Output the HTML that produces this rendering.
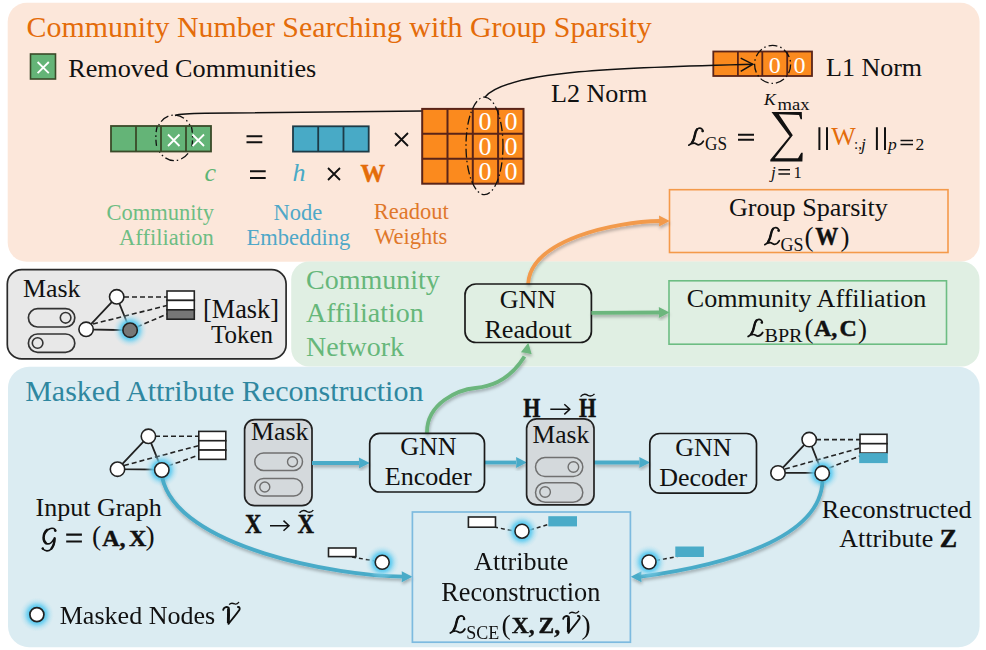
<!DOCTYPE html>
<html><head><meta charset="utf-8">
<style>
html,body{margin:0;padding:0;background:#fff;width:986px;height:650px;overflow:hidden}
svg{display:block}
text{font-family:"Liberation Serif",serif;fill:#111}
.b{font-weight:bold;stroke:#111;stroke-width:0.45px}
.i{font-style:italic}
</style></head><body>
<svg width="986" height="650" viewBox="0 0 986 650">
<defs>
<radialGradient id="glow" cx="0.5" cy="0.5" r="0.5">
<stop offset="0.42" stop-color="#4fc7f0" stop-opacity="1"/>
<stop offset="0.58" stop-color="#66cdf0" stop-opacity="0.8"/>
<stop offset="0.78" stop-color="#90d8f0" stop-opacity="0.35"/>
<stop offset="1" stop-color="#b8e4f2" stop-opacity="0"/>
</radialGradient>
<g id="SL">
<path d="M14.4,3.4 C14.6,1.4 12.6,-0.3 10.2,0.3 C8.2,0.8 7.2,3 6.6,6 C5.8,9.8 5,12.8 3.3,14.8 C2.4,15.9 1.2,16.8 0.3,17.2 C1.8,16 3.5,15.2 5.7,15.2 C7.5,15.2 8.3,16.8 10,16.8 C12,16.8 13.6,15.6 14.9,13.2" fill="none" stroke="#111" stroke-width="1.7" stroke-linecap="round" stroke-linejoin="round"/>
<path d="M8.6,1.2 C7.4,2.5 6.9,4.2 6.5,6.5 C5.9,9.8 5.1,12.5 3.6,14.4" fill="none" stroke="#111" stroke-width="2.4" stroke-linecap="round"/>
<circle cx="14" cy="3.1" r="1.25" fill="#111"/>
</g>
<g id="SV">
<path d="M563.2,618.8 C563.5,616.3 566.5,615.3 568.7,616.8 C569.3,622 569,628 568.5,632.8 C571.5,629 577,622.5 579.3,619 C580.2,617.5 579.5,615.8 578,616" fill="none" stroke="#111" stroke-width="1.9" stroke-linecap="round" stroke-linejoin="round"/>
<path d="M568.4,617.5 L568.2,632" stroke="#111" stroke-width="2.6"/>
<path d="M569.2,613.6 C571,611.2 573,612.2 575,613 C577,613.7 578,612.3 579,611" fill="none" stroke="#111" stroke-width="1.3"/>
</g>
<g id="HEADB"><path d="M0.3,0 L-10.5,-5.5 L-10.2,0 L-10.5,5.5 Z"/></g>
<filter id="sh" x="-10%" y="-10%" width="120%" height="130%"><feDropShadow dx="0.6" dy="2.4" stdDeviation="1.6" flood-color="#000" flood-opacity="0.27"/></filter>
</defs>

<!-- ============ PANELS ============ -->
<rect x="7.7" y="2.8" width="971.9" height="258.9" rx="19" fill="#fce7da"/>
<rect x="291.2" y="261.5" width="688.3" height="105" rx="18" fill="#e0efe3"/>
<rect x="8" y="366.8" width="971.6" height="280.4" rx="21" fill="#dbecf2"/>
<rect x="7.3" y="269.6" width="278.8" height="89.3" rx="14.5" fill="#e8e8e8" stroke="#2a2a2a" stroke-width="1.7"/>

<!-- ============ TOP PANEL ============ -->
<text x="26.6" y="36.7" font-size="29.9" style="fill:#e46c0a">Community Number Searching with Group Sparsity</text>
<rect x="30.5" y="54" width="25" height="25" fill="#64b477" stroke="#3a4a28" stroke-width="1.6"/>
<path d="M37.6,62 L48.8,73.2 M48.8,62 L37.6,73.2" stroke="#fff" stroke-width="1.8"/>
<text x="68.2" y="76.5" font-size="26.2">Removed Communities</text>

<!-- green bar -->
<ellipse cx="174.3" cy="137.8" rx="18.8" ry="22.8" fill="none" stroke="#111" stroke-width="1.3" stroke-dasharray="9 3 1.5 3"/>
<rect x="111" y="126" width="100" height="25.5" fill="#64b477" stroke="#3a4a28" stroke-width="1.8"/>
<path d="M136,126V151.5M161,126V151.5M186,126V151.5" stroke="#3a4a28" stroke-width="1.8"/>
<path d="M157.2,126.5 C155.6,132 155.4,140 156.8,147.5 M191.5,127 C192.8,133 193,141 191.5,149" fill="none" stroke="#111" stroke-width="1.3" stroke-dasharray="6 3 1.5 3"/>
<path d="M168,134.5 L179.5,146 M179.5,134.5 L168,146 M192.5,134.5 L204,146 M204,134.5 L192.5,146" stroke="#fff" stroke-width="1.8"/>
<path d="M175,115.5 C180,113.8 190,113.4 205,113.3 L423,110.9" fill="none" stroke="#111" stroke-width="1.5"/>

<path d="M246.5,136.2H262.3M246.5,142.3H262.3" stroke="#111" stroke-width="2.1"/>
<!-- blue bar -->
<rect x="293" y="126.3" width="75.7" height="25.3" fill="#48aac6" stroke="#1d3b47" stroke-width="1.8"/>
<path d="M318.2,126.3V151.6M343.5,126.3V151.6" stroke="#1d3b47" stroke-width="1.8"/>
<path d="M395,133 L408,146 M408,133 L395,146" stroke="#111" stroke-width="1.8"/>
<!-- orange matrix -->
<rect x="422.2" y="108.9" width="101.3" height="74.8" fill="#fb8a1e" stroke="#5a2418" stroke-width="2"/>
<path d="M447.5,108.9V183.7M472.8,108.9V183.7M498.1,108.9V183.7M422.2,133.8H523.5M422.2,158.7H523.5" stroke="#5a2418" stroke-width="2"/>
<g font-size="26" text-anchor="middle">
<text x="484.9" y="129.8" style="fill:#fff">0</text><text x="510.9" y="129.8" style="fill:#fff">0</text>
<text x="484.9" y="154.8" style="fill:#fff">0</text><text x="510.9" y="154.8" style="fill:#fff">0</text>
<text x="484.9" y="179.8" style="fill:#fff">0</text><text x="510.9" y="179.8" style="fill:#fff">0</text>
</g>
<ellipse cx="484.5" cy="145.9" rx="18.5" ry="48.8" fill="none" stroke="#111" stroke-width="1.3" stroke-dasharray="9 3 1.5 3"/>
<text x="551" y="101.6" font-size="26.1">L2 Norm</text>

<!-- second row math -->
<text x="204.5" y="181" font-size="26" class="i" style="fill:#5fb574">c</text>
<path d="M250,171.3H265.7M250,178H265.7" stroke="#111" stroke-width="2.1"/>
<text x="292.5" y="181" font-size="26" class="i" style="fill:#48aac6">h</text>
<path d="M328,168 L340,180 M340,168 L328,180" stroke="#111" stroke-width="1.8"/>
<text x="360.5" y="182.2" font-size="24.5" class="b" style="fill:#e46c0a;stroke:#e46c0a">W</text>

<!-- labels -->
<g font-size="22.5">
<text x="106.4" y="219.7" style="fill:#6dbd83">Community</text>
<text x="119.1" y="245.3" style="fill:#6dbd83">Affiliation</text>
<text x="273.6" y="219.7" style="fill:#4fa8c8">Node</text>
<text x="246.6" y="245" style="fill:#4fa8c8">Embedding</text>
<text x="373.8" y="218.8" style="fill:#e0782a">Readout</text>
<text x="374.2" y="244.3" style="fill:#e0782a">Weights</text>
</g>

<!-- L1 bar -->
<rect x="713.3" y="51.5" width="98.7" height="24.5" fill="#fb8a1e" stroke="#5a2418" stroke-width="1.8"/>
<path d="M737.9,51.5V76M762.3,51.5V76M787.2,51.5V76" stroke="#5a2418" stroke-width="1.8"/>
<text x="774.8" y="72.8" font-size="24" text-anchor="middle" style="fill:#fff">0</text>
<text x="799.6" y="72.8" font-size="24" text-anchor="middle" style="fill:#fff">0</text>
<ellipse cx="772.6" cy="64.4" rx="18" ry="19" fill="none" stroke="#111" stroke-width="1.3" stroke-dasharray="9 3 1.5 3"/>
<path d="M484.9,97.2 C507,69.7 634.5,67.2 752.8,64.2" fill="none" stroke="#111" stroke-width="1.5"/>
<path d="M740.7,58.2 L752.8,64.2 L740.7,71.3" fill="none" stroke="#111" stroke-width="1.5"/>
<text x="826" y="76.2" font-size="26">L1 Norm</text>

<!-- formula -->
<use href="#SL" transform="translate(688.5,128)"/>
<text x="705" y="149.6" font-size="19.5" textLength="22" lengthAdjust="spacingAndGlyphs">GS</text>
<path d="M738,134.8H754M738,139.8H754" stroke="#111" stroke-width="2"/>
<path d="M771.5,111.9 L801.8,111.9 L802,119.2 L800.6,119.2 L799,115 L778.8,114.3 L792.8,135.2 L774.8,158.2 L798,158.2 L801.2,152.8 L802.7,152.8 L802.4,161.6 L770.3,161.6 L770.3,159.8 L789.6,136.2 Z" fill="#111"/>
<text x="764" y="105.3" font-size="17.5" class="i">K</text>
<text x="777.5" y="109.6" font-size="17.5" textLength="32" lengthAdjust="spacingAndGlyphs">max</text>
<text x="771" y="177.8" font-size="17" class="i">j</text>
<path d="M778.4,169.8H790M778.4,174H790" stroke="#111" stroke-width="1.5"/>
<text x="793.5" y="177.7" font-size="16.5">1</text>
<path d="M819.4,127.3V149.9M827,127.3V149.9" stroke="#111" stroke-width="2"/>
<text x="831.2" y="144.8" font-size="25.5" textLength="24.5" lengthAdjust="spacingAndGlyphs" style="fill:#e46c0a">W</text>
<text x="854" y="149" font-size="15">:,</text>
<text x="861" y="149.5" font-size="17.5" class="i">j</text>
<path d="M876.9,127.3V149.9M885,127.3V149.9" stroke="#111" stroke-width="2"/>
<text x="888" y="149.5" font-size="17.5" class="i">p</text>
<path d="M900.5,140.5H913M900.5,144.5H913" stroke="#111" stroke-width="1.5"/>
<text x="915.5" y="149.5" font-size="17.5">2</text>

<!-- GS box -->
<rect x="669.5" y="189.7" width="278.5" height="62.8" fill="none" stroke="#f49a4a" stroke-width="1.6"/>
<text x="728.9" y="215.5" font-size="26.15">Group Sparsity</text>
<use href="#SL" transform="translate(764.5,227.5)"/>
<text x="780.5" y="250.5" font-size="19.5" textLength="23" lengthAdjust="spacingAndGlyphs">GS</text>
<text x="804.5" y="246.2" font-size="27">(</text>
<text x="815.2" y="245.2" font-size="25" class="b" textLength="23" lengthAdjust="spacingAndGlyphs">W</text>
<text x="840.5" y="246.2" font-size="27">)</text>

<!-- orange curve -->
<g filter="url(#sh)"><path d="M528.1,284 C530.5,239.4 615.7,221.5 660,221" fill="none" stroke="#f29a4c" stroke-width="3.8"/>
<use href="#HEADB" transform="translate(669.5,221)" fill="#f29a4c"/></g>

<!-- ============ MASK LEGEND ============ -->
<text x="23" y="296.5" font-size="25.9">Mask</text>
<rect x="28.4" y="308.6" width="46.4" height="18.4" rx="9.2" fill="none" stroke="#333" stroke-width="1.7"/>
<circle cx="65.6" cy="317.8" r="5.3" fill="none" stroke="#333" stroke-width="1.6"/>
<rect x="28.4" y="334" width="46.4" height="18.4" rx="9.2" fill="none" stroke="#333" stroke-width="1.7"/>
<circle cx="37.6" cy="343" r="5.3" fill="none" stroke="#333" stroke-width="1.6"/>
<path d="M124,297 H167 M93,324 L167,305.5 M137,327 L167,314" stroke="#222" stroke-width="1.6" stroke-dasharray="5 3"/>
<path d="M116.7,296.8 L86.1,329.3 L130.1,330.2 Z" fill="none" stroke="#222" stroke-width="1.8"/>
<circle cx="130.1" cy="330.2" r="17" fill="url(#glow)"/>
<circle cx="116.7" cy="296.8" r="7.2" fill="#fff" stroke="#222" stroke-width="1.6"/>
<circle cx="86.1" cy="329.3" r="7.2" fill="#fff" stroke="#222" stroke-width="1.6"/>
<circle cx="130.1" cy="330.2" r="7.2" fill="#777" stroke="#222" stroke-width="1.6"/>
<rect x="167" y="291" width="27.3" height="9.4" fill="#fff" stroke="#222" stroke-width="1.6"/>
<rect x="167" y="300.4" width="27.3" height="9.4" fill="#fff" stroke="#222" stroke-width="1.6"/>
<rect x="167" y="309.8" width="27.3" height="9.4" fill="#777" stroke="#222" stroke-width="1.6"/>
<text x="203" y="317.8" font-size="26.3">[Mask]</text>
<text x="211" y="342.7" font-size="25">Token</text>

<!-- ============ GREEN PANEL ============ -->
<g font-size="28">
<text x="306" y="289" style="fill:#66b77a">Community</text>
<text x="306" y="322" style="fill:#66b77a">Affiliation</text>
<text x="306" y="355.6" style="fill:#66b77a">Network</text>
</g>
<rect x="465" y="284" width="126.4" height="58.5" rx="11" fill="none" stroke="#1a1a1a" stroke-width="1.7"/>
<text x="499.8" y="308.4" font-size="26">GNN</text>
<text x="484.4" y="337.6" font-size="26.2">Readout</text>
<g filter="url(#sh)"><path d="M591.4,312.9 L660,312.5" stroke="#6cb67d" stroke-width="3.8"/>
<use href="#HEADB" transform="translate(669.3,312.5)" fill="#6cb67d"/></g>
<rect x="669" y="280.8" width="277.5" height="63.4" fill="none" stroke="#6dbd83" stroke-width="1.6"/>
<text x="686.8" y="307.4" font-size="26.1">Community Affiliation</text>
<use href="#SL" transform="translate(747.8,319.3)"/>
<text x="764.5" y="342" font-size="19.5" textLength="38" lengthAdjust="spacingAndGlyphs">BPR</text>
<text x="804.5" y="337.5" font-size="27">(</text>
<text x="814" y="336.3" font-size="24" class="b">A,</text>
<text x="839.5" y="336.3" font-size="24" class="b">C</text>
<text x="858" y="337.5" font-size="27">)</text>

<!-- green curve -->
<g filter="url(#sh)"><path d="M427,433.2 C426.2,402.7 458.9,389.6 475.7,388 C491.9,386.4 510.6,379.1 524.5,356.5" fill="none" stroke="#6cb67d" stroke-width="3.8"/>
<use href="#HEADB" transform="translate(528.3,343) rotate(-79)" fill="#6cb67d"/></g>

<!-- ============ BLUE PANEL ============ -->
<text x="25.2" y="400.6" font-size="30" style="fill:#2f87a0">Masked Attribute Reconstruction</text>

<!-- input graph -->
<path d="M155,436.3 H199 M124,465.5 L199,445.5 M168,466 L199,455" stroke="#222" stroke-width="1.6" stroke-dasharray="5 3"/>
<path d="M148.4,436.3 L117.5,469.2 L161.8,469.6 Z" fill="none" stroke="#222" stroke-width="1.8"/>
<circle cx="161.8" cy="470" r="17" fill="url(#glow)"/>
<circle cx="148.4" cy="436.3" r="7.2" fill="#fff" stroke="#222" stroke-width="1.6"/>
<circle cx="117.5" cy="469.2" r="7.2" fill="#fff" stroke="#222" stroke-width="1.6"/>
<rect x="198.8" y="431.4" width="27" height="9.33" fill="#fff" stroke="#222" stroke-width="1.6"/>
<rect x="198.8" y="440.73" width="27" height="9.33" fill="#fff" stroke="#222" stroke-width="1.6"/>
<rect x="198.8" y="450.06" width="27" height="9.33" fill="#fff" stroke="#222" stroke-width="1.6"/>
<text x="35.5" y="516" font-size="26">Input Graph</text>
<path d="M55.6,531 C55.5,528.5 52.5,527.8 50.5,528.5 C47,529.6 44.3,533 43.6,537.5 C43.2,541 44.8,543.6 47.5,543.9 C50,544.1 52,542.3 53.5,539.6 M54.6,538 C54.6,542 53.5,546.5 51,549.2 C48.8,551.4 45,551.6 42.5,548.6" fill="none" stroke="#111" stroke-width="1.6" stroke-linecap="round"/>
<path d="M47,529.8 C44.8,531.8 43.6,534.5 43.6,537.5 C43.6,540 44.3,542 46,543.2 M54.6,538.5 C54.5,542.5 53.5,546 51.5,548.5" fill="none" stroke="#111" stroke-width="2.4" stroke-linecap="round"/>
<circle cx="55.2" cy="530.6" r="1.3" fill="#111"/><circle cx="42.8" cy="548.5" r="1.2" fill="#111"/>
<path d="M66.2,534.6H81.9M66.2,541.5H81.9" stroke="#111" stroke-width="2.1"/>
<text x="92" y="545" font-size="27.5">(</text>
<text x="102.2" y="545.9" font-size="24" class="b">A,</text>
<text x="129" y="545.9" font-size="24" class="b">X</text>
<text x="145.5" y="545" font-size="27.5">)</text>

<!-- mask 1 -->
<rect x="244.6" y="419.7" width="67.4" height="86" rx="10" fill="#d4d9dc" stroke="#222" stroke-width="1.7"/>
<text x="251" y="440.4" font-size="25.9">Mask</text>
<rect x="254.8" y="453" width="47.7" height="17.4" rx="8.7" fill="none" stroke="#707070" stroke-width="1.5"/>
<circle cx="292.5" cy="461.7" r="5" fill="none" stroke="#707070" stroke-width="1.4"/>
<rect x="254.8" y="478.5" width="47.7" height="17.6" rx="8.8" fill="none" stroke="#707070" stroke-width="1.5"/>
<circle cx="264.8" cy="487" r="5" fill="none" stroke="#707070" stroke-width="1.4"/>
<text x="244.9" y="533" font-size="26.5" class="b" textLength="16.5" lengthAdjust="spacingAndGlyphs">X</text>
<path d="M270,525.7H288.5M283.5,520.6 L289,525.7 L283.5,530.8" fill="none" stroke="#111" stroke-width="1.5"/>
<text x="297.4" y="533" font-size="26.5" class="b" textLength="16.5" lengthAdjust="spacingAndGlyphs">X</text>
<path d="M299.5,512.8 C302,509.8 305,510.3 307,511.6 C309.5,512.9 311.5,512.3 313.3,510.1" fill="none" stroke="#111" stroke-width="1.4"/>

<!-- blue arrows -->
<g filter="url(#sh)">
<g stroke="#4aabc8" stroke-width="3.8">
<path d="M312,463 H359"/>
<path d="M484.5,462.5 H516"/>
<path d="M594,462.5 H639.5"/>
</g>
<use href="#HEADB" transform="translate(369.4,463)" fill="#4aabc8"/>
<use href="#HEADB" transform="translate(526.6,462.5)" fill="#4aabc8"/>
<use href="#HEADB" transform="translate(649.8,462.5)" fill="#4aabc8"/>
</g>

<!-- encoder -->
<rect x="369.7" y="433.4" width="114.8" height="58.6" rx="10" fill="none" stroke="#1a1a1a" stroke-width="1.7"/>
<text x="400.2" y="455.2" font-size="26">GNN</text>
<text x="384.7" y="485.2" font-size="26.1">Encoder</text>

<!-- mask 2 -->
<rect x="526.6" y="418.8" width="67.4" height="86" rx="10" fill="#d4d9dc" stroke="#222" stroke-width="1.7"/>
<text x="532.5" y="443" font-size="25.5">Mask</text>
<rect x="535.5" y="457.6" width="47.3" height="18.9" rx="9.4" fill="none" stroke="#707070" stroke-width="1.5"/>
<circle cx="573.4" cy="467" r="5.3" fill="none" stroke="#707070" stroke-width="1.4"/>
<rect x="535.5" y="482.8" width="47.3" height="19.4" rx="9.7" fill="none" stroke="#707070" stroke-width="1.5"/>
<circle cx="545.1" cy="492" r="5.3" fill="none" stroke="#707070" stroke-width="1.4"/>
<text x="523.3" y="416.7" font-size="26.5" class="b" textLength="17.1" lengthAdjust="spacingAndGlyphs">H</text>
<path d="M550.3,409.3H569M564.3,404.2 L569.8,409.3 L564.3,414.4" fill="none" stroke="#111" stroke-width="1.5"/>
<text x="578.9" y="416.7" font-size="26.5" class="b" textLength="17.1" lengthAdjust="spacingAndGlyphs">H</text>
<path d="M580.5,396.6 C583,393.6 586,394.1 588,395.4 C590.5,396.7 592.5,396.1 594.5,393.9" fill="none" stroke="#111" stroke-width="1.4"/>

<!-- decoder -->
<rect x="649.8" y="433.5" width="106.7" height="59.7" rx="10" fill="none" stroke="#1a1a1a" stroke-width="1.7"/>
<text x="675.3" y="455.8" font-size="26">GNN</text>
<text x="659.2" y="485.9" font-size="26">Decoder</text>

<!-- recon graph -->
<path d="M816,439.6 H860 M785,469 L860,448 M829,468 L860,456" stroke="#222" stroke-width="1.6" stroke-dasharray="5 3"/>
<path d="M809.2,439.6 L778,472.9 L822.2,472.9 Z" fill="none" stroke="#222" stroke-width="1.8"/>
<circle cx="822.2" cy="473.3" r="17" fill="url(#glow)"/>
<circle cx="809.2" cy="439.6" r="7.2" fill="#fff" stroke="#222" stroke-width="1.6"/>
<circle cx="778" cy="472.9" r="7.2" fill="#fff" stroke="#222" stroke-width="1.6"/>
<rect x="860" y="434.3" width="27" height="9.4" fill="#fff" stroke="#222" stroke-width="1.6"/>
<rect x="860" y="443.7" width="27" height="9.4" fill="#fff" stroke="#222" stroke-width="1.6"/>
<rect x="859.2" y="453.1" width="28.6" height="10" fill="#4aabc8"/>
<text x="821.8" y="517.5" font-size="26.2">Reconstructed</text>
<text x="839.3" y="547" font-size="26">Attribute <tspan class="b">Z</tspan></text>

<!-- blue curves -->
<g filter="url(#sh)">
<path d="M162.2,477.5 C177.1,548 339.2,576.2 403,576.6" fill="none" stroke="#4aabc8" stroke-width="3.8"/>
<use href="#HEADB" transform="translate(412.2,576.8)" fill="#4aabc8"/>
<path d="M822.5,480.5 C821.1,538.8 723.4,565.6 641,576.6" fill="none" stroke="#4aabc8" stroke-width="3.8"/>
<use href="#HEADB" transform="translate(631,576.8) rotate(180)" fill="#4aabc8"/>
</g>
<circle cx="161.8" cy="470" r="7.2" fill="#fff" stroke="#222" stroke-width="1.6"/>
<circle cx="822.2" cy="473.3" r="7.2" fill="#fff" stroke="#222" stroke-width="1.6"/>

<!-- AR box -->
<rect x="412.4" y="512" width="218" height="130.2" fill="none" stroke="#7dbadf" stroke-width="1.7"/>
<path d="M494,527 L514,531 M530,530 L548,524.5" stroke="#222" stroke-width="1.5" stroke-dasharray="4 3"/>
<rect x="468.4" y="517" width="27.1" height="10.2" fill="#fff" stroke="#222" stroke-width="1.6"/>
<circle cx="522" cy="531.2" r="17" fill="url(#glow)"/>
<circle cx="522" cy="531.2" r="7" fill="#fff" stroke="#222" stroke-width="1.6"/>
<rect x="548.3" y="516.2" width="28.7" height="10.2" fill="#4aabc8"/>
<text x="474.1" y="569.8" font-size="26.15">Attribute</text>
<text x="441.2" y="601.4" font-size="26.3">Reconstruction</text>
<use href="#SL" transform="translate(450,615.8)"/>
<text x="466.2" y="639" font-size="19.5" textLength="33" lengthAdjust="spacingAndGlyphs">SCE</text>
<text x="501.5" y="634" font-size="27.5">(</text>
<text x="511.8" y="633" font-size="23.5" class="b">X,</text>
<text x="538.5" y="633" font-size="23.5" class="b">Z,</text>
<use href="#SV"/>
<text x="581.5" y="634" font-size="27.5">)</text>

<!-- small left -->
<path d="M352,557 L375,561" stroke="#222" stroke-width="1.5" stroke-dasharray="4 3"/>
<rect x="328.5" y="548" width="27.4" height="8.6" fill="#fff" stroke="#222" stroke-width="1.6"/>
<circle cx="382.2" cy="562.3" r="17" fill="url(#glow)"/>
<circle cx="382.2" cy="562.3" r="7" fill="#fff" stroke="#222" stroke-width="1.6"/>
<!-- small right -->
<path d="M656,560.5 L680,556" stroke="#222" stroke-width="1.5" stroke-dasharray="4 3"/>
<circle cx="649" cy="562" r="17" fill="url(#glow)"/>
<circle cx="649" cy="562" r="7" fill="#fff" stroke="#222" stroke-width="1.6"/>
<rect x="675.3" y="546.5" width="28.6" height="10.5" fill="#4aabc8"/>

<!-- legend -->
<circle cx="36.9" cy="614.6" r="17" fill="url(#glow)"/>
<circle cx="36.9" cy="614.6" r="7" fill="#fff" stroke="#222" stroke-width="1.7"/>
<text x="59.7" y="624" font-size="26.05">Masked Nodes</text>
<use href="#SV" transform="translate(-340,-9)"/>
</svg>
</body></html>
